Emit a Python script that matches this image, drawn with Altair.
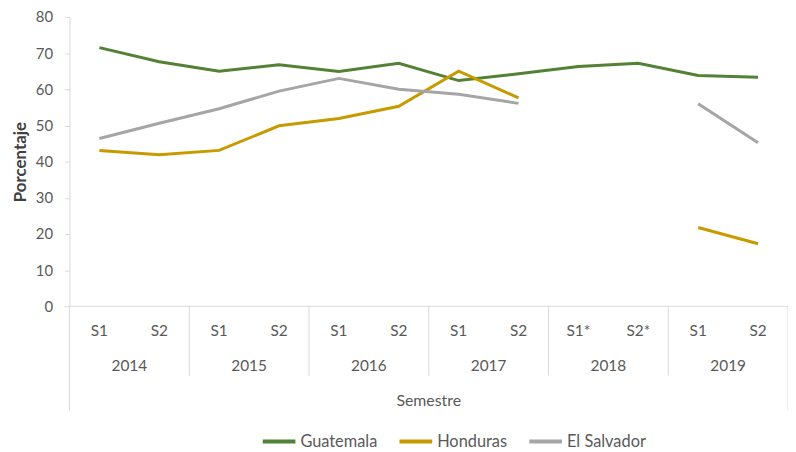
import altair as alt
import pandas as pd

countries = ["Guatemala", "Honduras", "El Salvador"]
colors = ["#538135", "#c79a00", "#a5a5a5"]
semesters = ["S1", "S2", "S1", "S2", "S1", "S2", "S1", "S2", "S1*", "S2*", "S1", "S2"]
years = ["2014", "2015", "2016", "2017", "2018", "2019"]
guatemala = [71.5, 67.6, 65.0, 66.8, 64.9, 67.2, 62.4, 64.3, 66.3, 67.2, 63.8, 63.3]
honduras = [43.1, 41.9, 43.1, 49.9, 51.9, 55.3, 65.0, 57.6, None, None, 21.8, 17.3]
el_salvador = [46.4, 50.6, 54.6, 59.5, 63.0, 60.0, 58.6, 56.1, None, None, 56.0, 45.2]

FONT = "Lato"
TXT = "#595959"
GRID = "#d9d9d9"
W, H = 725, 292

rows = []
for name, vals in zip(countries, [guatemala, honduras, el_salvador]):
    seg = 0
    for i, v in enumerate(vals):
        if v is None:
            seg += 1
            continue
        rows.append({"country": name, "pos": i + 0.5, "value": v, "seg": f"{name}-{seg}"})
df = pd.DataFrame(rows)

xscale = alt.Scale(domain=[0, 12], nice=False, zero=False)
yscale = alt.Scale(domain=[0, 80], nice=False)
yaxis = alt.Axis(
    values=list(range(0, 81, 10)), grid=False, domainColor=GRID, tickColor=GRID,
    tickSize=5, labelFont=FONT, labelFontSize=15, labelColor=TXT, labelPadding=12,
    title="Porcentaje", titleFont=FONT, titleFontSize=17, titleFontWeight="bold",
    titleColor="#404040", titlePadding=6)

lines = alt.Chart(df).mark_line(strokeWidth=3).encode(
    x=alt.X("pos:Q", scale=xscale, axis=None),
    y=alt.Y("value:Q", scale=yscale, axis=yaxis),
    color=alt.Color("country:N", scale=alt.Scale(domain=countries, range=colors),
                    legend=alt.Legend(title=None, orient="none", legendX=193, legendY=410,
                                      direction="horizontal", symbolType="stroke",
                                      symbolSize=1089, symbolStrokeWidth=4,
                                      labelFont=FONT, labelFontSize=16.5, labelColor=TXT,
                                      labelOffset=3, columnPadding=14, padding=0)),
    detail="seg:N",
)

base_df = pd.DataFrame({"x": [0], "x2": [12], "y": [0]})
baseline = alt.Chart(base_df).mark_rule(color=GRID, strokeWidth=1).encode(
    x=alt.X("x:Q", scale=xscale, axis=None), x2="x2:Q",
    y=alt.Y("y:Q", scale=yscale, axis=yaxis))

inner_df = pd.DataFrame({"b": [2, 4, 6, 8, 10]})
outer_df = pd.DataFrame({"b": [0, 12]})
inner = alt.Chart(inner_df).mark_rule(color=GRID, strokeWidth=1).encode(
    x=alt.X("b:Q", scale=xscale, axis=None), y=alt.value(H), y2=alt.value(362))
outer = alt.Chart(outer_df).mark_rule(color=GRID, strokeWidth=1).encode(
    x=alt.X("b:Q", scale=xscale, axis=None), y=alt.value(H), y2=alt.value(397))

sem_df = pd.DataFrame({"pos": [i + 0.5 for i in range(12)], "label": semesters})
sem_text = alt.Chart(sem_df).mark_text(font=FONT, fontSize=15.5, color=TXT, baseline="middle").encode(
    x=alt.X("pos:Q", scale=xscale, axis=None), y=alt.value(317), text="label:N")

year_df = pd.DataFrame({"pos": [2 * i + 1 for i in range(6)], "label": years})
year_text = alt.Chart(year_df).mark_text(font=FONT, fontSize=15.5, color=TXT, baseline="middle").encode(
    x=alt.X("pos:Q", scale=xscale, axis=None), y=alt.value(352), text="label:N")

title_df = pd.DataFrame({"pos": [6], "label": ["Semestre"]})
title_text = alt.Chart(title_df).mark_text(font=FONT, fontSize=16, color=TXT, baseline="middle").encode(
    x=alt.X("pos:Q", scale=xscale, axis=None), y=alt.value(388), text="label:N")

chart = alt.layer(baseline, inner, outer, sem_text, year_text, title_text, lines).properties(
    width=W, height=H, autosize=alt.AutoSizeParams(type="none"),
    padding={"left": 62, "top": 7, "right": 0, "bottom": 144},
).configure_view(stroke=None)

chart.save("out.html", embed_options={"renderer": "svg", "actions": False})
